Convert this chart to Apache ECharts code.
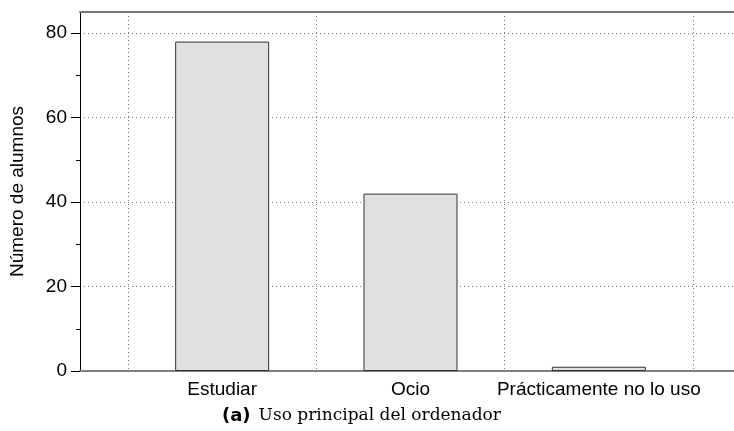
<!DOCTYPE html>
<html>
<head>
<meta charset="utf-8">
<script src="https://cdn.jsdelivr.net/npm/echarts@6/dist/echarts.min.js"></script>
<style>html,body{margin:0;padding:0;background:#fff}#c{width:734px;height:431px}</style>
</head>
<body>
<div id="c"></div>
<script>
var categories = ['Estudiar', 'Ocio', 'Prácticamente no lo uso'];
var values = [78, 42, 1];
var yTicks = [0, 20, 40, 60, 80];
var yTitle = 'Número de alumnos';
var caption = 'Uso principal del ordenador';

var chart = echarts.init(document.getElementById('c'), null, {renderer: 'canvas'});
var dotted = {color: '#7a7a7a', width: 1, type: [1, 3]};
var font = 'Liberation Sans';
chart.setOption({
  animation: false,
  title: {
    text: '{b|(a)}{s|' + caption + '}',
    left: 222,
    top: 407,
    padding: 0,
    textStyle: {
      rich: {
        b: {fontFamily: 'DejaVu Sans', fontWeight: 'bold', fontSize: 18, color: '#000', padding: [0, 8, 0, 0]},
        s: {fontFamily: 'DejaVu Serif', fontWeight: 'normal', fontSize: 17, color: '#000'}
      }
    }
  },
  grid: [
    {left: 128, right: 41, top: 12, bottom: 60},
    {left: 80, right: 0, top: 33, bottom: 60},
    {left: 80, right: 0, top: 12, bottom: 60}
  ],
  xAxis: [
    {
      type: 'category', gridIndex: 0, data: categories,
      axisLine: {show: false}, axisTick: {show: false},
      axisLabel: {color: '#000', fontSize: 19, fontFamily: font, margin: 9, interval: 0},
      splitLine: {show: true, lineStyle: dotted}
    },
    {type: 'value', gridIndex: 1, show: false, min: 0, max: 1},
    {
      type: 'value', gridIndex: 2, position: 'bottom', min: 0, max: 1,
      axisLine: {show: true, lineStyle: {color: '#7f7f7f', width: 2}},
      axisTick: {show: false}, axisLabel: {show: false}, splitLine: {show: false}
    },
    {
      type: 'value', gridIndex: 2, position: 'top', min: 0, max: 1,
      axisLine: {show: true, lineStyle: {color: '#777', width: 2}},
      axisTick: {show: false}, axisLabel: {show: false}, splitLine: {show: false}
    }
  ],
  yAxis: [
    {type: 'value', gridIndex: 0, min: 0, max: 85, show: false},
    {
      type: 'value', gridIndex: 1, min: yTicks[0], max: yTicks[yTicks.length - 1], interval: 20,
      axisLine: {show: false},
      axisTick: {show: true, inside: false, length: 9, lineStyle: {color: '#000', width: 1}},
      minorTick: {show: true, splitNumber: 2, length: 4, lineStyle: {color: '#000', width: 1}},
      axisLabel: {color: '#000', fontSize: 19, fontFamily: font, margin: 13},
      splitLine: {show: true, lineStyle: dotted}
    },
    {
      type: 'value', gridIndex: 2, min: 0, max: 1,
      name: yTitle, nameLocation: 'middle', nameGap: 53,
      nameTextStyle: {color: '#000', fontSize: 19, fontFamily: font},
      axisLine: {show: true, lineStyle: {color: '#000', width: 1}},
      axisTick: {show: false}, axisLabel: {show: false}, splitLine: {show: false}
    }
  ],
  series: [{
    type: 'bar', xAxisIndex: 0, yAxisIndex: 0, data: values,
    barWidth: 94,
    itemStyle: {color: '#e0e0e0', borderColor: '#333', borderWidth: 1}
  }]
});
</script>
</body>
</html>
